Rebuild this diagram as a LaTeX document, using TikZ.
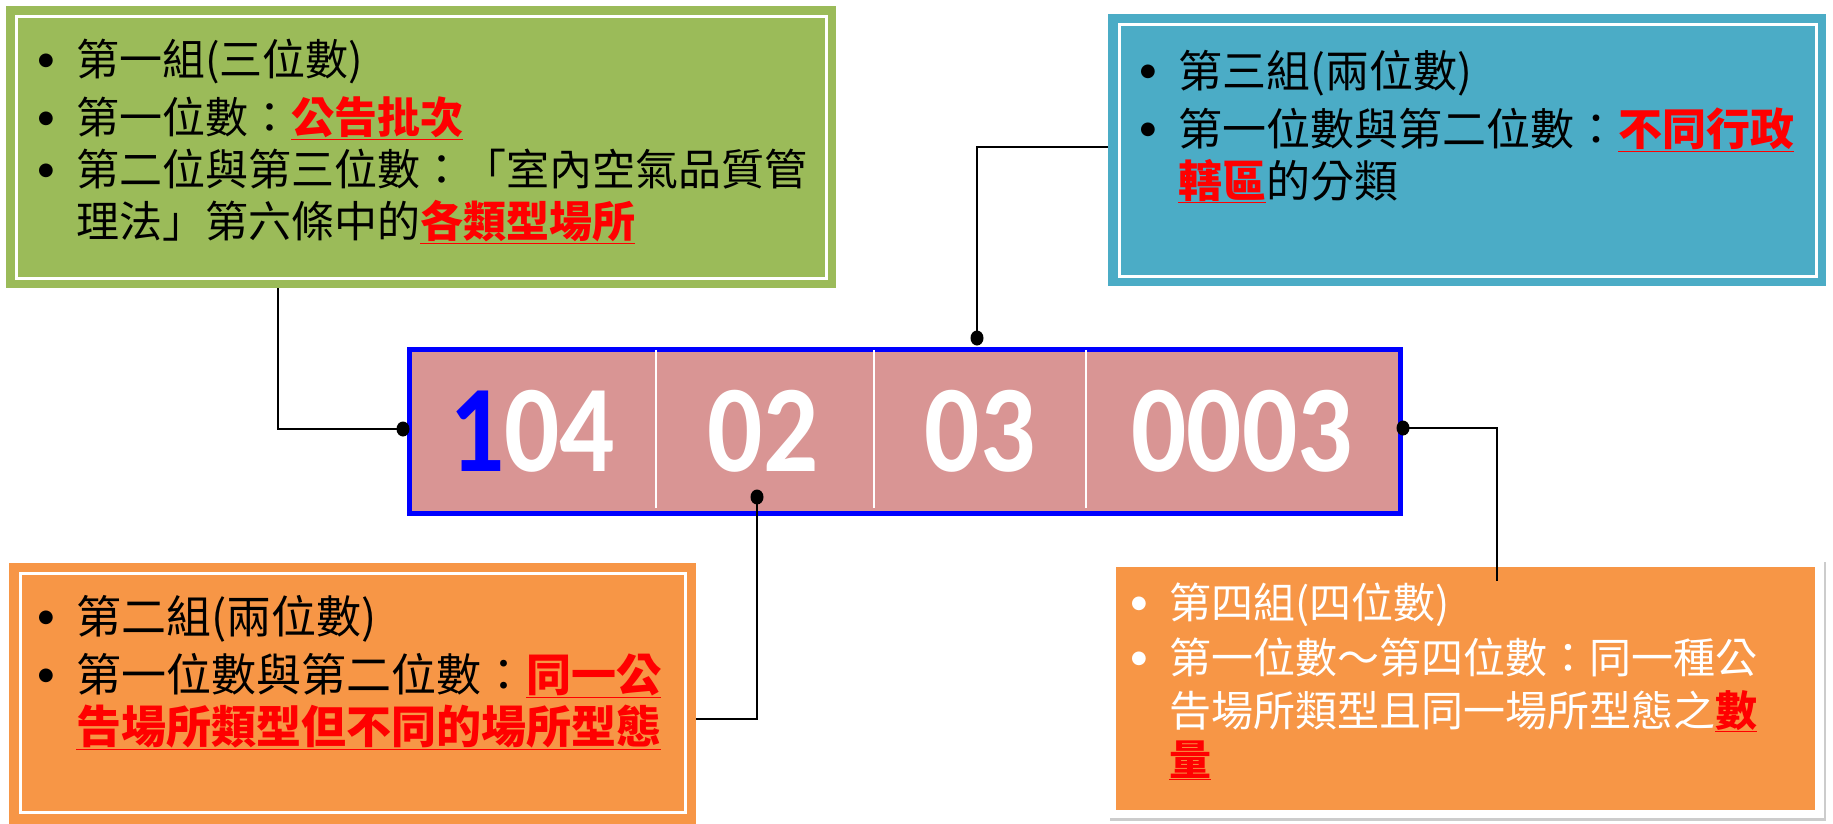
\documentclass[tikz,border=0pt]{standalone}
\usepackage{graphicx}
\usepackage{fontspec}
\newfontfamily\cjk{Noto Sans CJK TC}
\newfontfamily\symf{DejaVu Sans}
\newfontfamily\digitfont[FakeStretch=0.88]{Carlito}
\usetikzlibrary{shadows,shapes.geometric}
\definecolor{boxgreen}{HTML}{9BBB59}
\definecolor{boxblue}{HTML}{4BACC6}
\definecolor{boxorange}{HTML}{F79646}
\definecolor{codepink}{HTML}{D99594}
\definecolor{hlred}{HTML}{FF0000}
\newcommand\bul{\makebox[38pt][l]{\raisebox{0.23em}{\symf\fontsize{18}{18}\selectfont ●}}}
\newcommand\ind{\hspace*{38pt}}
\newcommand\hl[1]{\textcolor{hlred}{\bfseries\underline{#1}}}
\tikzset{
  panel/.style={rectangle, anchor=north west, inner sep=0pt, draw=none},
  frameline/.style={draw=white, line width=3pt},
  txt/.style={anchor=base west, inner sep=0pt, text=black},
  txtw/.style={anchor=base west, inner sep=0pt, font=\cjk\fontsize{42}{50}\selectfont, text=white},
  fg/.style={font=\cjk\fontsize{43}{50}\selectfont},
  fb/.style={font=\cjk\fontsize{44}{50}\selectfont},
  fo/.style={font=\cjk\fontsize{45}{50}\selectfont},
  digits/.style={anchor=base, inner sep=0pt, font=\digitfont\bfseries\fontsize{124}{124}\selectfont, text=white},
  conn/.style={draw=black, line width=1.5pt},
  dotmark/.style={ellipse, fill=black, inner sep=0pt, minimum width=13pt, minimum height=15pt},
}
\begin{document}
\begin{tikzpicture}[x=1pt,y=-1pt]
\fill[white] (0,0) rectangle (1833,823);
\useasboundingbox (0,0) rectangle (1833,823);

% green panel
\node[panel, fill=boxgreen, minimum width=830pt, minimum height=282pt] (green) at (6,6) {};
\draw[frameline] (16,16) rectangle (826,278);
% blue panel
\node[panel, fill=boxblue, minimum width=718pt, minimum height=272pt] (blue) at (1108,14) {};
\draw[frameline] (1119,24) rectangle (1816,276);
% bottom-left orange panel
\node[panel, fill=boxorange, minimum width=687pt, minimum height=262pt] (orangeL) at (9,563) {};
\draw[frameline] (20,573) rectangle (685,812);
% bottom-right panel
\node[panel, fill=white, drop shadow={shadow xshift=2pt, shadow yshift=-3pt, opacity=0.4, fill=black!50}, minimum width=716pt, minimum height=259pt] (orangeRout) at (1108,559) {};
\node[panel, fill=boxorange, minimum width=699pt, minimum height=243pt] (orangeR) at (1116,567) {};

% code box
\node[panel, fill=codepink, draw=blue, line width=5pt, minimum width=991pt, minimum height=164pt] (code) at (407,347) {};
\draw[white, line width=2pt] (656,350) -- (656,508);
\draw[white, line width=2pt] (874,350) -- (874,508);
\draw[white, line width=2pt] (1086,350) -- (1086,508);
\node[digits] (d1) at (532,471) {\textcolor{blue}{1}04};
\node[digits] (d2) at (763,471) {02};
\node[digits] (d3) at (980,471) {03};
\node[digits] (d4) at (1242,471) {0003};

% green text
\node[txt, fg] (g1) at (38,75) {\bul 第一組(三位數)};
\node[txt, fg] (g2) at (38,133) {\bul 第一位數：\hl{公告批次}};
\node[txt, fg] (g3) at (38,185) {\bul 第二位與第三位數：「室內空氣品質管};
\node[txt, fg] (g4) at (38,237) {\ind 理法」第六條中的\hl{各類型場所}};
% blue text
\node[txt, fb] (b1) at (1140,87) {\bul 第三組(兩位數)};
\node[txt, fb] (b2) at (1140,145) {\bul 第一位數與第二位數：\hl{不同行政}};
\node[txt, fb] (b3) at (1140,197) {\ind \hl{轄區}的分類};
% bottom-left text
\node[txt, fo] (o1) at (38,633) {\bul 第二組(兩位數)};
\node[txt, fo] (o2) at (38,691) {\bul 第一位數與第二位數：\hl{同一公}};
\node[txt, fo] (o3) at (38,743) {\ind \hl{告場所類型但不同的場所型態}};
% bottom-right text
\node[txtw] (r1) at (1131,618) {\bul 第四組(四位數)};
\node[txtw] (r2) at (1131,673) {\bul 第一位數～第四位數：同一種公};
\node[txtw] (r3) at (1131,726) {\ind 告場所類型且同一場所型態之\hl{數}};
\node[txtw] (r4) at (1131,775) {\ind \hl{量}};

% connectors
\coordinate (pL) at (403,429);
\coordinate (pT) at (977,338);
\coordinate (pI) at (757,497);
\coordinate (pR) at (1403,428);
\coordinate (cL) at (278,288);
\coordinate (cT) at (1108,147);
\coordinate (cI) at (696,719);
\coordinate (cR) at (1497,581);
\draw[conn] (pL) -| (cL);
\draw[conn] (pT) |- (cT);
\draw[conn] (pI) |- (cI);
\draw[conn] (pR) -| (cR);
% dots
\node[dotmark] (dL) at (pL) {};
\node[dotmark] (dT) at (pT) {};
\node[dotmark] (dI) at (pI) {};
\node[dotmark] (dR) at (pR) {};
\end{tikzpicture}
\end{document}
